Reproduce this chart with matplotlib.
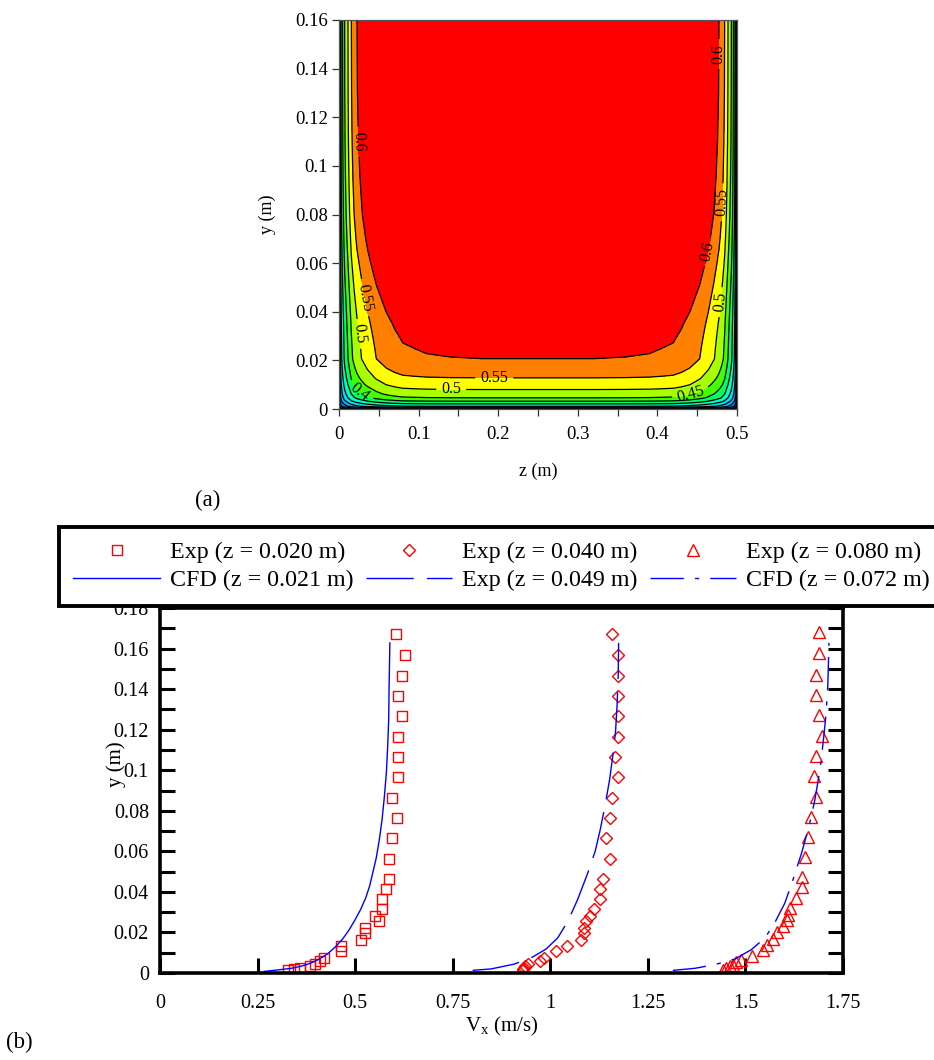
import numpy as np
import matplotlib
matplotlib.use("Agg")
import matplotlib.pyplot as plt
from matplotlib.ticker import MultipleLocator, FuncFormatter

plt.rcParams["font.family"] = ["Liberation Serif", "DejaVu Serif"]
plt.rcParams["mathtext.fontset"] = "custom"
plt.rcParams["mathtext.rm"] = "Liberation Serif"
plt.rcParams["mathtext.it"] = "Liberation Serif"

# ---------------- (a) streamwise velocity over the cross-section ----------------
u_surface_centre = 0.75          # m/s, free-surface velocity at mid-span

# mid-span (z = 0.25 m) vertical profile
y_nodes = [0.0, 0.0004, 0.0011, 0.0021, 0.0032, 0.0046, 0.0063, 0.0080, 0.0100,
           0.0128, 0.0165, 0.0207, 0.0250, 0.0300, 0.0350, 0.0400, 0.0500, 0.0600,
           0.0700, 0.0800, 0.0950, 0.1100, 0.1300, 0.1600]
u_mid = [0.0, 0.20, 0.30, 0.35, 0.40, 0.45, 0.48, 0.50, 0.525,
         0.55, 0.575, 0.60, 0.605, 0.612, 0.62, 0.63, 0.652, 0.675,
         0.697, 0.715, 0.73, 0.74, 0.747, 0.75]

# free-surface (y = 0.16 m) lateral profile versus distance from a side wall
wall_dist = [0.0, 0.0005, 0.0015, 0.0028, 0.0045, 0.0071, 0.0092, 0.0113, 0.0134,
             0.0155, 0.0190, 0.0226, 0.0290, 0.0360, 0.0470, 0.0590, 0.0700, 0.0800,
             0.0950, 0.1100, 0.1400, 0.1800, 0.2500]
u_top = [0.0, 0.18, 0.30, 0.36, 0.40, 0.45, 0.475, 0.50, 0.525,
         0.55, 0.577, 0.60, 0.628, 0.655, 0.688, 0.714, 0.73, 0.74,
         0.744, 0.747, 0.749, 0.75, 0.75]

contour_levels = [0.05, 0.10, 0.15, 0.20, 0.25, 0.30, 0.35, 0.40, 0.45, 0.50, 0.55, 0.60]
band_colors = ["#0000ff", "#0020ff", "#0050ff", "#0080ff", "#00b0ff", "#00e0ff",
               "#00ffc0", "#00ff60", "#40ff00", "#a8ff00", "#ffff00", "#ff8000", "#ff0000"]

# ---------------- (b) vertical profiles of Vx ----------------
exp1_v = [0.604, 0.628, 0.620, 0.611, 0.620, 0.611, 0.611, 0.611, 0.595, 0.608,
          0.595, 0.586, 0.586, 0.578, 0.569, 0.569, 0.552, 0.562, 0.526, 0.526,
          0.515, 0.465, 0.465, 0.421, 0.410, 0.396, 0.385, 0.359, 0.344, 0.329]
exp1_y = [0.1670, 0.1566, 0.1467, 0.1365, 0.1266, 0.1166, 0.1066, 0.0965, 0.0865, 0.0765,
          0.0664, 0.0564, 0.0464, 0.0414, 0.0365, 0.0316, 0.0283, 0.0255, 0.0222, 0.0197,
          0.0164, 0.0132, 0.0107, 0.0074, 0.0058, 0.0046, 0.0036, 0.0026, 0.0020, 0.0013]

exp2_v = [1.158, 1.173, 1.173, 1.173, 1.173, 1.173, 1.166, 1.173, 1.158, 1.152,
          1.143, 1.152, 1.134, 1.128, 1.128, 1.111, 1.103, 1.092, 1.086, 1.087,
          1.079, 1.043, 1.015, 0.985, 0.974, 0.943, 0.935, 0.932, 0.929, 0.930]
exp2_y = [0.1670, 0.1566, 0.1467, 0.1365, 0.1266, 0.1166, 0.1066, 0.0965, 0.0865, 0.0765,
          0.0664, 0.0564, 0.0464, 0.0414, 0.0365, 0.0316, 0.0283, 0.0255, 0.0222, 0.0197,
          0.0164, 0.0132, 0.0107, 0.0074, 0.0058, 0.0046, 0.0033, 0.0025, 0.0020, 0.0013]

exp3_v = [1.689, 1.689, 1.682, 1.682, 1.689, 1.695, 1.682, 1.676, 1.682, 1.667,
          1.661, 1.652, 1.644, 1.646, 1.629, 1.614, 1.608, 1.607, 1.597, 1.580,
          1.571, 1.554, 1.545, 1.517, 1.488, 1.477, 1.468, 1.460, 1.451, 1.443]
exp3_y = [0.1680, 0.1576, 0.1472, 0.1372, 0.1271, 0.1171, 0.1072, 0.0970, 0.0868, 0.0770,
          0.0669, 0.0571, 0.0472, 0.0424, 0.0370, 0.0321, 0.0288, 0.0260, 0.0230, 0.0201,
          0.0168, 0.0140, 0.0115, 0.0082, 0.0063, 0.0053, 0.0041, 0.0033, 0.0025, 0.0016]

cfd1_v = [0.267, 0.301, 0.336, 0.361, 0.387, 0.408, 0.430, 0.451, 0.468, 0.485, 0.500, 0.514,
          0.527, 0.537, 0.545, 0.554, 0.562, 0.569, 0.575, 0.580, 0.583, 0.586, 0.587, 0.589]
cfd1_y = [0.0008, 0.0015, 0.0023, 0.0033, 0.0049, 0.0069, 0.0095, 0.0132, 0.0168, 0.0214,
          0.0263, 0.0313, 0.0370, 0.0428, 0.0493, 0.0567, 0.0658, 0.0757, 0.0872, 0.0987,
          0.1102, 0.1250, 0.1414, 0.1628]

cfd2_v = [0.801, 0.848, 0.908, 0.955, 0.989, 1.019, 1.045, 1.070, 1.096, 1.115, 1.128,
          1.140, 1.152, 1.160, 1.167, 1.171, 1.174, 1.175]
cfd2_y = [0.0013, 0.0020, 0.0044, 0.0079, 0.0118, 0.0173, 0.0255, 0.0362, 0.0493, 0.0600,
          0.0707, 0.0822, 0.0954, 0.1069, 0.1184, 0.1316, 0.1464, 0.1628]

cfd3_v = [1.314, 1.370, 1.421, 1.473, 1.515, 1.550, 1.575, 1.601, 1.622, 1.644, 1.663,
          1.678, 1.691, 1.699, 1.706, 1.711, 1.714]
cfd3_y = [0.0013, 0.0023, 0.0041, 0.0069, 0.0115, 0.0173, 0.0247, 0.0345, 0.0461, 0.0592,
          0.0724, 0.0855, 0.1003, 0.1135, 0.1266, 0.1414, 0.1628]

legend_labels = ["Exp (z = 0.020 m)", "CFD (z = 0.021 m)", "Exp (z = 0.040 m)",
                 "Exp (z = 0.049 m)", "Exp (z = 0.080 m)", "CFD (z = 0.072 m)"]

W, H = 934, 1060
fig = plt.figure(figsize=(W / 100, H / 100), dpi=100)
fmt = FuncFormatter(lambda v, p: f"{v:g}")

# ---- panel (a) ----
ax_a = fig.add_axes([339 / W, 1 - 409 / H, 398 / W, 389 / H])
d = np.asarray(wall_dist)
z_nodes = np.concatenate([d, 0.5 - d[::-1][1:]])
u_span = np.concatenate([u_top, u_top[::-1][1:]])
U = np.outer(u_mid, u_span) / u_surface_centre

fill_levels = [0.0] + contour_levels + [1.0]
ax_a.contourf(z_nodes, y_nodes, U, levels=fill_levels, colors=band_colors)
cs = ax_a.contour(z_nodes, y_nodes, U, levels=contour_levels, colors="black", linewidths=0.9)
label_spots = [(0.024, 0.11), (0.036, 0.046), (0.027, 0.031), (0.028, 0.0075),
               (0.195, 0.0128), (0.141, 0.0080), (0.442, 0.0060),
               (0.458, 0.065), (0.481, 0.085), (0.478, 0.044), (0.477, 0.146)]
ax_a.clabel(cs, inline=True, fontsize=11.5, fmt="%g", manual=label_spots)

ax_a.set_xlim(0, 0.5)
ax_a.set_ylim(0, 0.16)
ax_a.xaxis.set_major_locator(MultipleLocator(0.1))
ax_a.xaxis.set_minor_locator(MultipleLocator(0.05))
ax_a.yaxis.set_major_locator(MultipleLocator(0.02))
ax_a.xaxis.set_major_formatter(fmt)
ax_a.yaxis.set_major_formatter(fmt)
ax_a.tick_params(which="both", direction="out", length=5, width=0.9, color="#333333",
                 labelsize=13.5, pad=3)
ax_a.tick_params(axis="x", which="major", pad=7)
for sp in ax_a.spines.values():
    sp.set_linewidth(0.9)
    sp.set_color("#555555")
ax_a.set_xlabel("z (m)", fontsize=13)
ax_a.set_ylabel("y (m)", fontsize=13)
ax_a.xaxis.set_label_coords(0.5, -(463 - 409) / 389)
ax_a.yaxis.set_label_coords(-(339 - 276) / 398, 0.5)

fig.text(208 / W, 1 - 500 / H, "(a)", ha="center", va="center", fontsize=16.5)

# ---- panel (b) ----
ax_b = fig.add_axes([160 / W, 1 - 973 / H, 683 / W, 365 / H])
mk = dict(linestyle="none", markerfacecolor="none", markeredgecolor="#ff0000",
          markeredgewidth=1.0)
h1, = ax_b.plot(exp1_v, exp1_y, marker="s", markersize=7, **mk)
h3, = ax_b.plot(exp2_v, exp2_y, marker="D", markersize=6.5, **mk)
h5, = ax_b.plot(exp3_v, exp3_y, marker="^", markersize=8.5, **mk)
h2, = ax_b.plot(cfd1_v, cfd1_y, color="#0000ff", lw=1.0, ls="-")
h4, = ax_b.plot(cfd2_v, cfd2_y, color="#0000ff", lw=1.0, dashes=(34, 9.5))
h6, = ax_b.plot(cfd3_v, cfd3_y, color="#0000ff", lw=1.0, dashes=(24, 8, 3, 8))

ax_b.set_xlim(0, 1.75)
ax_b.set_ylim(0, 0.18)
ax_b.xaxis.set_major_locator(MultipleLocator(0.25))
ax_b.yaxis.set_major_locator(MultipleLocator(0.02))
ax_b.yaxis.set_minor_locator(MultipleLocator(0.01))
ax_b.xaxis.set_major_formatter(fmt)
ax_b.yaxis.set_major_formatter(fmt)
ax_b.tick_params(which="both", direction="in", length=11, width=2.2, labelsize=14.5,
                 right=True, pad=8)
ax_b.tick_params(axis="x", which="major", pad=15)
ax_b.tick_params(axis="y", which="minor", length=11, width=2.2)
for sp in ax_b.spines.values():
    sp.set_linewidth(2.6)
ax_b.set_xlabel(r"V$_\mathregular{x}$ (m/s)", fontsize=15)
ax_b.set_ylabel("y (m)", fontsize=15)
ax_b.xaxis.set_label_coords(0.5, -(1015 - 973) / 365)
ax_b.yaxis.set_label_coords(-(160 - 126) / 683, (973 - 764) / 365)

fig.text(19 / W, 1 - 1042 / H, "(b)", ha="center", va="center", fontsize=16.5)

handles = [h1, h2, h3, h4, h5, h6]
leg = fig.legend(handles, legend_labels, ncol=3, loc="upper left",
                 bbox_to_anchor=(59 / W, 1 - 527 / H), borderaxespad=0, fontsize=17.3,
                 handlelength=3.6, handletextpad=0.42, columnspacing=0.5,
                 labelspacing=0.26, borderpad=0.6, numpoints=1,
                 frameon=True, fancybox=False, edgecolor="black", framealpha=1)
leg.get_frame().set_linewidth(2.8)
leg.set_zorder(10)

fig.savefig("out.png", dpi=100)
